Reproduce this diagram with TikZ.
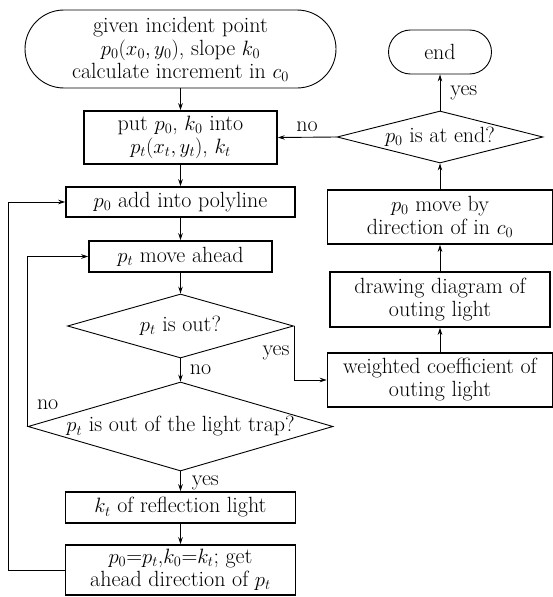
\documentclass[tikz,border=0pt]{standalone}
\usetikzlibrary{shapes.geometric,arrows.meta}
\begin{document}
\begin{tikzpicture}[x=1pt,y=-1pt,
  every node/.style={font=\fontsize{22}{23}\selectfont, inner sep=0pt},
  proc/.style={draw, line width=1.5pt, align=center},
  term/.style={draw, line width=0.9pt, rounded corners=#1, align=center},
  dec/.style={draw, diamond, line width=0.9pt, shape aspect=#1},
  conn/.style={line width=0.9pt, -{Stealth[length=7pt,width=4.5pt]}}]
\useasboundingbox (0,0) rectangle (553,597);
% left column
\node[term=39pt, minimum width=311pt, minimum height=78pt] (start) at (180.5,49) {given incident point\\ $p_0(x_0,y_0)$, slope $k_0$\\ calculate increment in $c_0$};
\node[proc, minimum width=193pt, minimum height=53pt] (put) at (180.5,137.5) {put $p_0$, $k_0$ into\\ $p_t(x_t,y_t)$, $k_t$};
\node[proc, minimum width=229pt, minimum height=30pt] (add) at (180.5,202) {$p_0$ add into polyline};
\node[proc, minimum width=183pt, minimum height=31pt] (move) at (180.5,256.5) {$p_t$ move ahead};
\node[dec=3.53125, minimum width=226pt, minimum height=64pt] (out) at (180.5,326) {\makebox[0pt]{$p_t$ is out?}};
\node[dec=3.427, minimum width=305pt, minimum height=89pt] (trap) at (180.5,426.5) {\makebox[0pt]{$p_t$ is out of the light trap?}};
\node[proc, minimum width=230pt, minimum height=31pt] (kt) at (180.5,507.5) {$k_t$ of reflection light};
\node[proc, minimum width=230pt, minimum height=50pt] (upd) at (180.5,570) {$p_0$=$p_t$,$k_0$=$k_t$; get\\ ahead direction of $p_t$};
% right column
\node[term=22pt, minimum width=103pt, minimum height=44pt] (end) at (440,52) {end};
\node[dec=3.9615, minimum width=206pt, minimum height=52pt] (isend) at (440,137) {\makebox[0pt]{$p_0$ is at end?}};
\node[proc, minimum width=225pt, minimum height=54pt] (moveby) at (440,217) {$p_0$ move by\\ direction of in $c_0$};
\node[proc, minimum width=220pt, minimum height=55pt] (drw) at (440,299.5) {drawing diagram of\\ outing light};
\node[proc, minimum width=225pt, minimum height=54pt] (wt) at (440,380) {weighted coefficient of\\ outing light};
\coordinate (lp) at (8,570);
% connectors
\draw[conn] (start) -- (put);
\draw[conn] (put) -- (add);
\draw[conn] (add) -- (move);
\draw[conn] (move) -- (out);
\draw[conn] (out) -- node[right=9pt]{no} (trap);
\draw[conn] (trap) -- node[right=11pt, yshift=-2pt]{yes} (kt);
\draw[conn] (kt) -- (upd);
\draw[conn] (upd.west) -- (lp) |- (add.west);
\draw[conn] (trap.west) |- node[pos=0.065, right=9pt]{no} (move.west);
\draw[conn] (out.east) |- node[pos=0.25, left=4pt]{yes} (wt.west);
\draw[conn] (wt) -- (drw);
\draw[conn] (drw) -- (moveby);
\draw[conn] (moveby) -- (isend);
\draw[conn] (isend) -- node[right=10pt]{yes} (end);
\draw[conn] (isend.west) -- node[above=5pt]{no} (put.east);
\end{tikzpicture}
\end{document}
